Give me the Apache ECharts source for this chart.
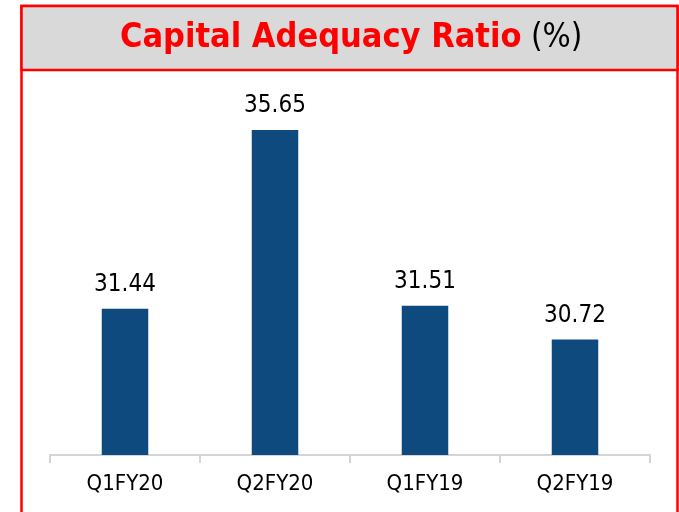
<!DOCTYPE html>
<html><head><meta charset="utf-8">
<script src="https://cdn.jsdelivr.net/npm/echarts@6/dist/echarts.min.js"></script>
<style>html,body{margin:0;padding:0;background:#fff}#c{width:679px;height:512px}</style>
</head><body><div id="c"></div>
<script>
const categories = ['Q1FY20', 'Q2FY20', 'Q1FY19', 'Q2FY19'];
const ratioValues = [31.44, 35.65, 31.51, 30.72];
const titleMain = 'Capital Adequacy Ratio';
const titleUnit = '(%)';

const chart = echarts.init(document.getElementById('c'));
const FONT = '"DejaVu Sans Condensed", "DejaVu Sans", sans-serif';
chart.setOption({
  animation: false,
  graphic: [
    { type: 'rect', shape: { x: 21.5, y: 6, width: 656, height: 600 }, style: { fill: '#fff', stroke: '#FF0000', lineWidth: 2.5 }, z: -10 },
    { type: 'rect', shape: { x: 21.5, y: 6, width: 656, height: 64 }, style: { fill: '#D9D9D9', stroke: '#FF0000', lineWidth: 2.5 }, z: -9 },
    { type: 'text', x: 120, y: 38, z: 10,
      style: {
        text: '{a|' + titleMain + '}{b|\u00A0' + titleUnit + '}',
        textAlign: 'left', textVerticalAlign: 'middle',
        rich: {
          a: { fill: '#FF0000', fontSize: 34, fontWeight: 'bold', fontFamily: FONT },
          b: { fill: '#000', fontSize: 33, fontWeight: 'normal', fontFamily: FONT }
        }
      }
    }
  ],
  grid: { left: 50, right: 29, top: 30, bottom: 57 },
  xAxis: {
    type: 'category', data: categories,
    axisLine: { lineStyle: { color: '#D4D4D4', width: 2 } },
    axisTick: { show: true, length: 8, lineStyle: { color: '#D4D4D4', width: 2 } },
    axisLabel: { color: '#000', fontSize: 22, fontFamily: FONT, margin: 18 }
  },
  yAxis: { type: 'value', min: 28, max: 38, show: false, splitLine: { show: false } },
  series: [{
    type: 'bar', data: ratioValues, barWidth: '31%',
    itemStyle: { color: '#0F4A7E' },
    label: { show: true, position: 'top', distance: 12, color: '#000', fontSize: 24, fontFamily: FONT,
      formatter: p => p.value.toFixed(2) }
  }]
});
</script></body></html>
